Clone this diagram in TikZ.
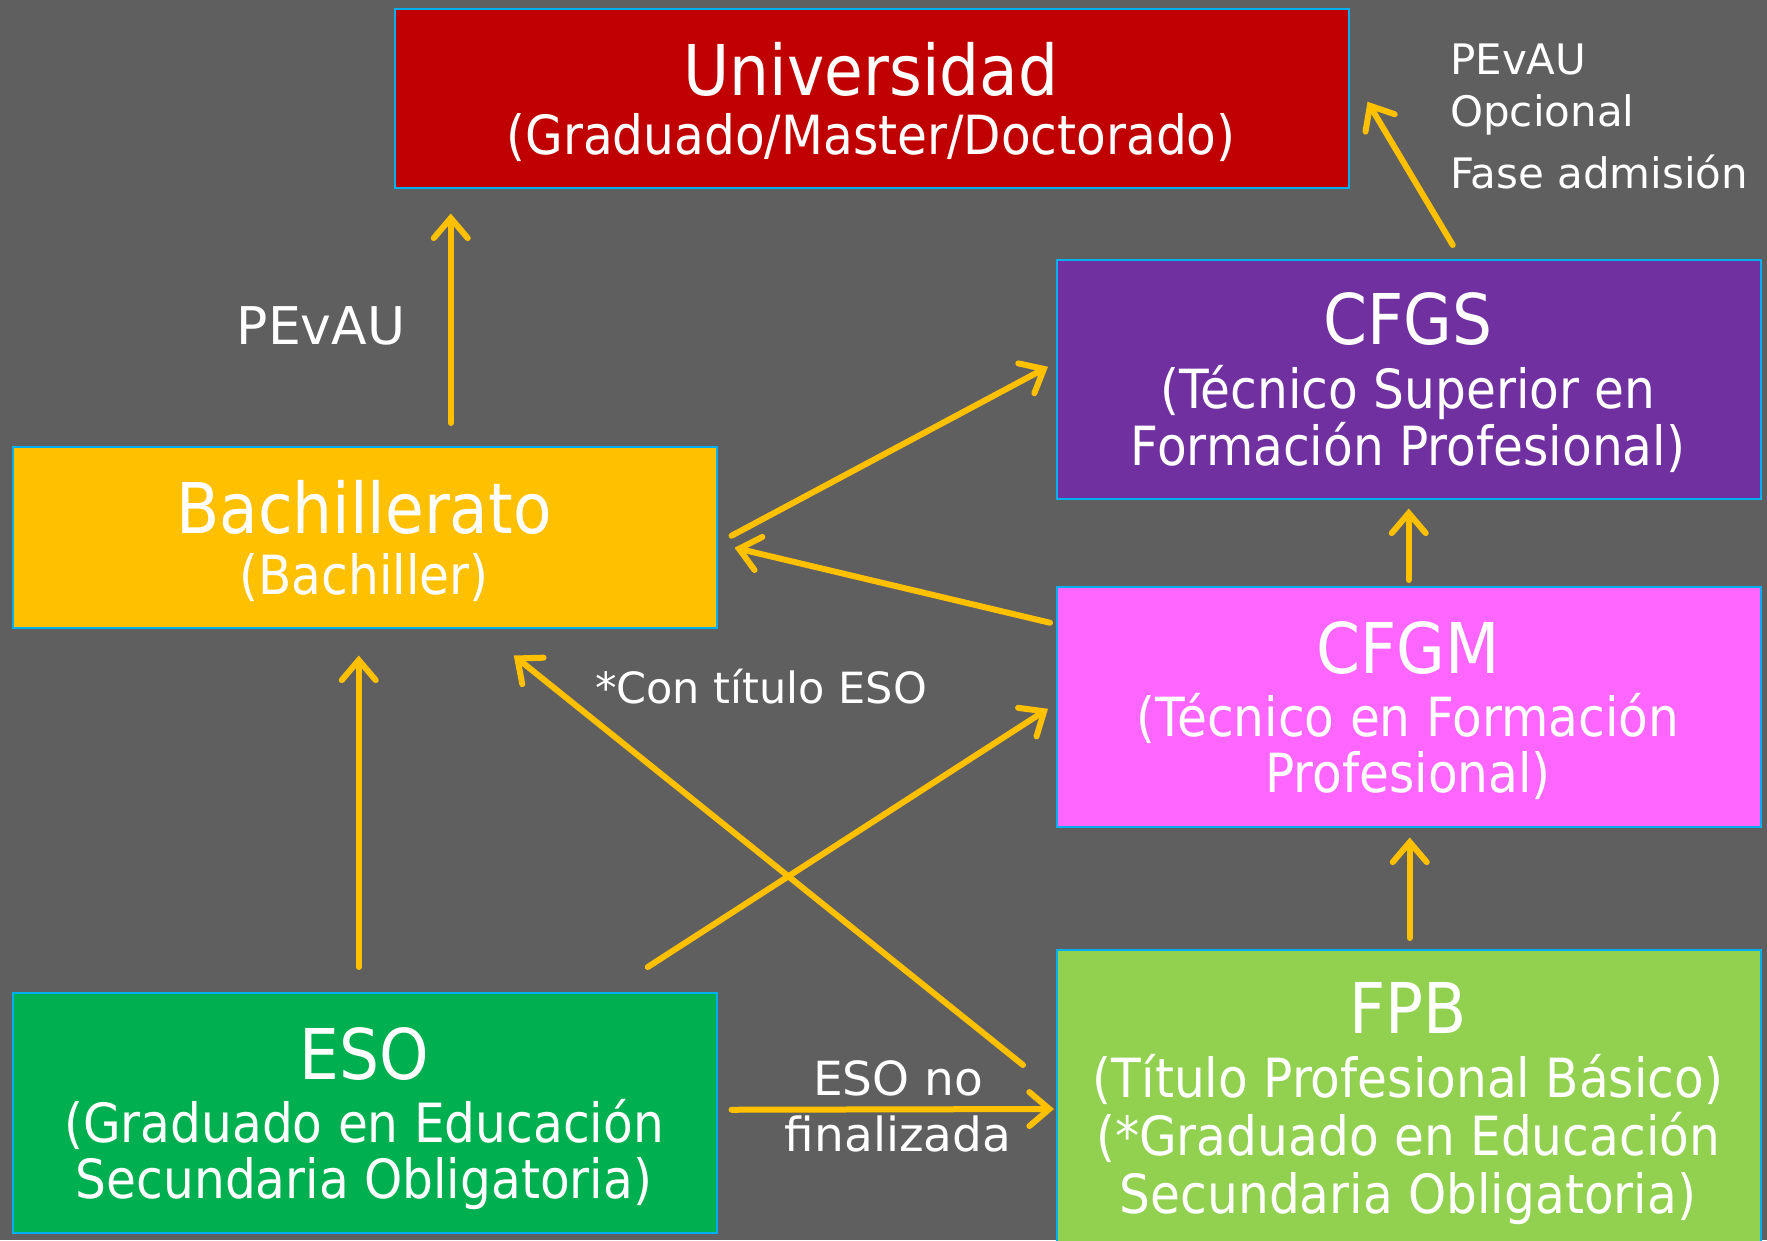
\documentclass[tikz,border=0pt]{standalone}
\usepackage{fontspec}
\usetikzlibrary{arrows.meta}
\newfontfamily\boxfont{DejaVu Sans}[FakeStretch=0.90]
\newfontfamily\labfont{DejaVu Sans}
\definecolor{bg}{RGB}{95,95,95}
\definecolor{boxline}{RGB}{0,176,240}
\definecolor{arrowc}{RGB}{255,192,0}
\definecolor{univc}{RGB}{192,0,0}
\definecolor{bachc}{RGB}{255,192,0}
\definecolor{cfgsc}{RGB}{112,48,160}
\definecolor{cfgmc}{RGB}{255,102,255}
\definecolor{fpbc}{RGB}{146,208,80}
\definecolor{esoc}{RGB}{0,176,80}
\begin{document}
\begin{tikzpicture}[x=1pt,y=-1pt,
  box/.style={draw=boxline, line width=1.5pt, inner sep=0pt, anchor=north west},
  big/.style={text=white, font=\boxfont\fontsize{70}{84}\selectfont, anchor=base, inner sep=0pt},
  small/.style={text=white, font=\boxfont\fontsize{54}{65}\selectfont, anchor=base, inner sep=0pt},
  lab/.style={text=white, font=\labfont\fontsize{43}{52}\selectfont, anchor=base, inner sep=0pt},
  arr/.style={draw=arrowc, line width=6pt, line cap=round, -{Straight Barb[length=20pt,width=34pt,line cap=round]}}]
\useasboundingbox (0,0) rectangle (1767,1240);
\fill[bg] (0,0) rectangle (1767,1240);
\clip (0,0) rectangle (1767,1240);
% boxes
\node[box, fill=univc, minimum width=954pt, minimum height=179pt] (univ) at (394,8) {};
\node[box, fill=bachc, minimum width=704pt, minimum height=181pt] (bach) at (12,446) {};
\node[box, fill=esoc, minimum width=704pt, minimum height=240pt] (eso) at (12,992) {};
\node[box, fill=cfgsc, minimum width=704pt, minimum height=239pt] (cfgs) at (1056,259) {};
\node[box, fill=cfgmc, minimum width=704pt, minimum height=240pt] (cfgm) at (1056,586) {};
\node[box, fill=fpbc, minimum width=704pt, minimum height=311pt] (fpb) at (1056,949) {};
% box texts
\node[big] (univ1) at (871,95) {Universidad};
\node[small] (univ2) at (871,154) {(Graduado/Master/Doctorado)};
\node[big] (bach1) at (364,533) {Bachillerato};
\node[small] (bach2) at (364,594) {(Bachiller)};
\node[big] (cfgs1) at (1408,344) {CFGS};
\node[small] (cfgs2) at (1408,408) {(Técnico Superior en};
\node[small] (cfgs3) at (1408,465) {Formación Profesional)};
\node[big] (cfgm1) at (1408,673) {CFGM};
\node[small] (cfgm2) at (1408,736) {(Técnico en Formación};
\node[small] (cfgm3) at (1408,792) {Profesional)};
\node[big] (eso1) at (364,1079) {ESO};
\node[small] (eso2) at (364,1142) {(Graduado en Educación};
\node[small] (eso3) at (364,1198) {Secundaria Obligatoria)};
\node[big] (fpb1) at (1408,1033) {FPB};
\node[small] (fpb2) at (1408,1097) {(Título Profesional Básico)};
\node[small] (fpb3) at (1408,1155) {(*Graduado en Educación};
\node[small] (fpb4) at (1408,1213) {Secundaria Obligatoria)};
% labels
\node[lab, font=\labfont\fontsize{52}{60}\selectfont] (lpevau) at (321,344) {PEvAU};
\node[lab] (lcon) at (761,703) {*Con título ESO};
\node[lab, anchor=base west, font=\labfont\fontsize{42}{50}\selectfont] (lr1) at (1450,74) {PEvAU};
\node[lab, anchor=base west, font=\labfont\fontsize{42}{50}\selectfont] (lr2) at (1450,126) {Opcional};
\node[lab, anchor=base west, font=\labfont\fontsize{42}{50}\selectfont] (lr3) at (1450,188) {Fase admisión};
\node[lab, font=\labfont\fontsize{47}{55}\selectfont] (leso1) at (898,1095) {ESO no};
\node[lab, font=\labfont\fontsize{47}{55}\selectfont] (leso2) at (898,1151) {finalizada};
% arrows
\draw[arr] ([xshift=86pt,yshift=23pt]bach.north) -- ([xshift=-421pt,yshift=-25pt]univ.south);
\draw[arr] ([xshift=44pt,yshift=14pt]cfgs.north) -- ([xshift=18pt,yshift=-3.5pt]univ.east);
\draw[arr] ([xshift=14pt,yshift=1.5pt]bach.east) -- ([xshift=-8pt,yshift=12.5pt]cfgs.west);
\draw[arr] ([xshift=-6pt,yshift=84pt]cfgm.west) -- ([xshift=17pt,yshift=-10.5pt]bach.east);
\draw[arr] ([yshift=6pt]cfgm.north) -- ([yshift=-9pt]cfgs.south);
\draw[arr] ([xshift=1pt,yshift=11pt]fpb.north) -- ([xshift=1pt,yshift=-10pt]cfgm.south);
\draw[arr] ([xshift=-6pt,yshift=25pt]eso.north) -- ([xshift=-6pt,yshift=-27pt]bach.south);
\draw[arr] ([xshift=283pt,yshift=25pt]eso.north) -- ([xshift=-8pt,yshift=-2pt]cfgm.west);
\draw[arr] ([xshift=-33pt,yshift=-116pt]fpb.north west) -- ([xshift=149pt,yshift=-27pt]bach.south);
\draw[arr] ([xshift=14pt,yshift=3pt]eso.east) -- ([xshift=-2pt,yshift=-160pt]fpb.north west);
\end{tikzpicture}
\end{document}
